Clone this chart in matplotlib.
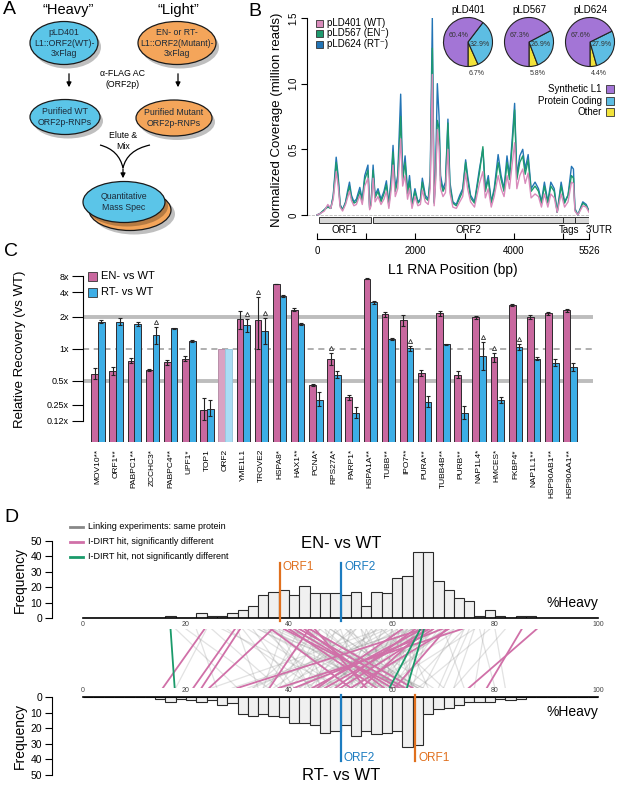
import numpy as np
import matplotlib
matplotlib.use('Agg')
import matplotlib.pyplot as plt
from matplotlib.patches import Ellipse, Rectangle, PathPatch
from matplotlib.path import Path
from matplotlib.transforms import offset_copy

plt.rcParams['font.family'] = ['Liberation Sans', 'DejaVu Sans']

# ---- B: coverage along L1 (million reads) ----
COV_POS = [0, 60, 150, 220, 280, 330, 390, 430, 470, 520, 580, 620, 660, 700, 750, 800, 870, 920, 970, 1035,
           1070, 1100, 1140, 1180, 1240, 1300, 1360, 1410, 1460, 1510, 1545, 1590, 1640, 1700, 1740, 1790, 1840, 1880, 1930, 1990,
           2050, 2100, 2140, 2200, 2260, 2300, 2343, 2380, 2410, 2445, 2480, 2510, 2560, 2610, 2660, 2700, 2760, 2830, 2900, 2960,
           3020, 3060, 3120, 3200, 3300, 3370, 3420, 3480, 3540, 3600, 3680, 3740, 3800, 3860, 3910, 3970, 4015, 4060, 4120, 4180,
           4230, 4290, 4350, 4430, 4500, 4560, 4620, 4690, 4750, 4820, 4880, 4960, 5030, 5100, 5170, 5210, 5240, 5300, 5400, 5470, 5526]
COV_WT = [.00, .01, .03, .08, .05, .12, .33, .22, .06, .03, .08, .13, .18, .11, .07, .08, .15, .08, .22, .28,
          .04, .07, .28, .10, .14, .08, .12, .18, .05, .20, .38, .14, .20, .58, .22, .30, .12, .20, .05, .14,
          .07, .08, .19, .10, .08, .20, 1.07, .07, .25, .65, .52, .20, .14, .17, .50, .17, .06, .05, .10, .14,
          .32, .20, .10, .06, .24, .33, .13, .20, .06, .14, .30, .20, .14, .30, .20, .40, .55, .20, .30, .35,
          .24, .32, .13, .16, .14, .06, .16, .06, .16, .13, .02, .16, .06, .10, .25, .24, .03, .00, .07, .06, .02]
COV_EN = [.00, .01, .04, .06, .05, .14, .40, .27, .07, .04, .09, .16, .22, .13, .09, .10, .18, .10, .27, .34,
          .05, .09, .34, .13, .18, .10, .16, .23, .07, .26, .48, .18, .26, .75, .26, .40, .16, .26, .07, .18,
          .09, .11, .25, .13, .11, .26, 1.27, .09, .30, .72, .66, .26, .18, .22, .70, .22, .09, .07, .13, .18,
          .40, .27, .13, .09, .32, .52, .18, .27, .09, .18, .40, .27, .18, .40, .27, .55, .80, .27, .40, .45,
          .31, .42, .18, .22, .18, .09, .22, .09, .22, .18, .02, .22, .09, .15, .30, .28, .04, .00, .09, .07, .03]
COV_RT = [.00, .01, .04, .07, .05, .15, .44, .30, .08, .04, .10, .18, .25, .15, .10, .12, .21, .12, .30, .38,
          .05, .10, .38, .15, .20, .12, .18, .26, .08, .30, .53, .20, .30, .92, .30, .45, .18, .30, .08, .20,
          .10, .12, .28, .15, .12, .30, 1.50, .10, .35, 1.00, .75, .30, .20, .25, .73, .25, .10, .08, .15, .20,
          .42, .30, .15, .10, .35, .50, .20, .30, .10, .20, .46, .30, .20, .45, .30, .60, .85, .30, .45, .50,
          .35, .46, .20, .25, .20, .10, .25, .10, .25, .20, .02, .25, .10, .15, .37, .35, .05, .00, .10, .08, .03]
SERIES_NAMES = ['pLD401 (WT)', 'pLD567 (EN\u207b)', 'pLD624 (RT\u207b)']
L1_REGIONS = [('ORF1', 40, 1100), ('ORF2', 1140, 5000), ('Tags', 5000, 5235), ("3'UTR", 5235, 5526)]

PIE_NAMES = ['pLD401', 'pLD567', 'pLD624']
PIE_SYN = [60.4, 67.3, 67.6]
PIE_PROT = [32.9, 26.9, 27.9]
PIE_OTHER = [6.7, 5.8, 4.4]

# ---- C: relative recovery ----
PROTEINS = ['MOV10**', 'ORF1**', 'PABPC1**', 'ZCCHC3*', 'PABPC4**', 'UPF1*', 'TOP1', 'ORF2', 'YME1L1',
            'TROVE2', 'HSPA8*', 'HAX1**', 'PCNA*', 'RPS27A*', 'PARP1*', 'HSPA1A**', 'TUBB**', 'IPO7**',
            'PURA**', 'TUBB4B**', 'PURB**', 'NAP1L4*', 'HMCES*', 'FKBP4*', 'NAP1L1**', 'HSP90AB1**', 'HSP90AA1**']
EN_RATIO = [0.58, 0.62, 0.77, 0.63, 0.75, 0.81, 0.20, 1.0, 1.90, 1.88, 5.66, 2.43, 0.44, 0.80,
            0.31, 7.1, 2.17, 1.86, 0.59, 2.22, 0.57, 1.99, 0.83, 2.79, 2.02, 2.22, 2.41]
RT_RATIO = [1.81, 1.81, 1.72, 1.35, 1.56, 1.19, 0.21, 1.0, 1.67, 1.48, 3.58, 1.72, 0.29, 0.57,
            0.18, 3.0, 1.23, 1.02, 0.27, 1.11, 0.18, 0.86, 0.29, 1.04, 0.81, 0.74, 0.67]
EN_ERR = [.18, .12, .08, .04, .08, .08, .6, 0, .3, .9, .03, .06, .06, .18, .1, .02, .1, .18,
          .1, .1, .1, .05, .15, .05, .07, .06, .07]  # log2 units
RT_ERR = [.04, .1, .06, .27, .03, .03, .45, 0, .2, .4, .05, .04, .3, .1, .35, .05, .03, .08,
          .25, .02, .4, .45, .12, .1, .06, .12, .12]
EN_DELTA = ['TROVE2', 'RPS27A*', 'HMCES*']
RT_DELTA = ['ZCCHC3*', 'YME1L1', 'TROVE2', 'IPO7**', 'NAP1L4*', 'FKBP4*']
C_TICKS = [0.125, 0.25, 0.5, 1, 2, 4, 8]
C_TICKLABELS = ['0.12x', '0.25x', '0.5x', '1x', '2x', '4x', '8x']

# ---- D: %Heavy histograms ----
BIN_EDGES = np.arange(0, 101, 2)
EN_FREQ = [0, 0, 0, 0, 0, 0, 0, 0,
           1, 0, 0, 3, 1, 1, 3, 5, 8, 15, 17, 18, 15, 21, 16, 16, 16, 15, 17, 8,
           17, 16, 26, 27, 43, 43, 24, 18, 13, 11, 1, 5, 1, 0, 1, 1,
           0, 0, 0, 0, 0, 0]
RT_FREQ = [0, 0, 0, 0, 0, 0, 0,
           1, 3, 1, 2, 3, 2, 5, 4, 11, 12, 11, 12, 13, 17, 17, 18, 23, 22, 18, 25,
           22, 24, 23, 22, 32, 31, 11, 8, 7, 5, 3, 3, 3, 1, 2, 1,
           0, 0, 0, 0, 0, 0, 0]
ORF_EN = {'ORF1': 38.2, 'ORF2': 50.1}
ORF_RT = {'ORF1': 64.5, 'ORF2': 50.0}

LINK_GRAY_EN = [18, 22, 25, 28, 30, 32, 33, 34, 35, 36, 37, 38, 38, 39, 40, 40, 41, 42, 42, 43,
                44, 44, 45, 46, 46, 47, 48, 48, 49, 50, 50, 51, 52, 52, 53, 54, 55, 56, 57, 58,
                59, 60, 60, 61, 61, 62, 62, 63, 63, 64, 64, 65, 65, 66, 66, 67, 67, 68, 69, 70,
                71, 72, 73, 74, 75, 76, 78, 80,
                20, 24, 27, 31, 34, 36, 37, 39, 41, 43, 45, 47, 49, 51, 53, 55, 57, 58, 59, 60,
                61, 62, 63, 64, 65, 66, 67, 68, 69, 70, 72, 74, 76, 77, 79, 82, 44, 46, 48, 52,
                54, 56, 58, 60, 62, 64, 66, 68, 35, 40]
LINK_GRAY_RT = [30, 26, 38, 45, 34, 50, 41, 56, 47, 60, 52, 44, 63, 55, 48, 66, 58, 36, 62, 53,
                46, 64, 57, 40, 61, 51, 65, 43, 58, 54, 35, 62, 49, 60, 44, 57, 52, 63, 42, 55,
                48, 59, 38, 53, 64, 47, 61, 32, 56, 45, 63, 50, 58, 41, 62, 54, 46, 60, 52, 57,
                48, 66, 55, 63, 70, 72, 76, 82,
                36, 18, 50, 40, 58, 44, 62, 35, 54, 66, 38, 59, 45, 68, 37, 60, 49, 70, 33, 56,
                42, 67, 51, 29, 57, 46, 64, 39, 61, 74, 52, 69, 58, 80, 65, 72, 61, 33, 65, 40,
                62, 47, 25, 64, 53, 43, 51, 56, 63, 65]
LINK_SIG_EN = [23.6, 29.5, 30.5, 36.8, 43.9, 40.0, 41.0, 42.0, 43.0, 44.0, 45.0, 36.5, 39.0,
               65.9, 67.2, 68.0, 69.7, 71.0, 73.6, 66.5, 64.5, 85.2, 88.1, 70.5, 62.0, 66.0]
LINK_SIG_RT = [15.5, 21.4, 23.0, 24.5, 36.2, 57.0, 60.0, 62.5, 58.5, 64.0, 55.0, 52.0, 61.5,
               44.5, 47.0, 50.0, 41.0, 52.0, 38.0, 54.0, 49.0, 78.4, 74.9, 60.5, 45.5, 30.0]
LINK_NS_EN = [17.0, 65.5, 66.2]
LINK_NS_RT = [17.8, 59.5, 62.9]

PINK = '#C9689F'
BLUE = '#3DAEE6'
LINE_COLORS = ['#D98BBB', '#1E9A6E', '#2274B5']
ORANGE = '#E0701E'
DBLUE = '#1C7CC0'

W, H = 617, 786
fig = plt.figure(figsize=(W / 100, H / 100), dpi=100)


def px_axes(x0, y0, x1, y1):
    return fig.add_axes([x0 / W, 1 - y1 / H, (x1 - x0) / W, (y1 - y0) / H])


canvas = px_axes(0, 0, W, H)
canvas.set_xlim(0, W)
canvas.set_ylim(H, 0)
canvas.axis('off')
canvas.set_zorder(10)

# ================= A: schematic =================
def bubble(cx, cy, w, h, color, text):
    canvas.add_patch(Ellipse((cx + 3, cy + 4), w, h, color='#000000', alpha=0.25, lw=0))
    canvas.add_patch(Ellipse((cx, cy), w, h, facecolor=color, edgecolor='#1a1a1a', lw=0.9))
    canvas.text(cx, cy, text, ha='center', va='center', fontsize=6.3, color='#1d2b3a', linespacing=1.2)


for letter, (lx, ly) in zip('ABCD', [(3, 9), (248, 11), (4, 252), (4, 518)]):
    canvas.text(lx, ly, letter, fontsize=14, ha='left', va='center')

canvas.text(68, 10, '\u201cHeavy\u201d', fontsize=10.5, ha='center', va='center')
canvas.text(178, 10, '\u201cLight\u201d', fontsize=10.5, ha='center', va='center')
bubble(64, 43, 68, 43, '#5BC5E8', 'pLD401\nL1::ORF2(WT)-\n3xFlag')
bubble(177, 43, 78, 43, '#F4A55A', 'EN- or RT-\nL1::ORF2(Mutant)-\n3xFlag')
bubble(65, 117, 70, 35, '#5BC5E8', 'Purified WT\nORF2p-RNPs')
bubble(174, 118, 76, 36, '#F4A55A', 'Purified Mutant\nORF2p-RNPs')
for ax_x in (69, 178):
    canvas.annotate('', xy=(ax_x, 90), xytext=(ax_x, 71),
                    arrowprops=dict(arrowstyle='-|>', color='k', lw=0.9, mutation_scale=7))
canvas.text(123, 79, '\u03b1-FLAG AC\n(ORF2p)', fontsize=6.3, ha='center', va='center', linespacing=1.3)
canvas.text(123, 141, 'Elute &\nMix', fontsize=6.3, ha='center', va='center', linespacing=1.3)
for start, ctrl in (((100, 145), (119, 150)), ((150, 145), (127, 150))):
    verts = [start, ctrl, (123, 168)]
    canvas.add_patch(PathPatch(Path(verts, [Path.MOVETO, Path.CURVE3, Path.CURVE3]),
                               fill=False, lw=0.9, color='k'))
canvas.annotate('', xy=(123, 181), xytext=(123, 166),
                arrowprops=dict(arrowstyle='-|>', color='k', lw=0.9, mutation_scale=7))
canvas.add_patch(Ellipse((134, 214), 82, 41, color='#000000', alpha=0.25, lw=0))
canvas.add_patch(Ellipse((130, 210), 82, 41, facecolor='#F4A55A', edgecolor='#1a1a1a', lw=0.9))
bubble(124, 202, 82, 41, '#5BC5E8', 'Quantitative\nMass Spec')

# ================= B: coverage =================
axb = px_axes(307, 18, 589, 239)
for vals, col in zip([COV_RT, COV_EN, COV_WT], LINE_COLORS[::-1]):
    axb.plot(COV_POS, vals, color=col, lw=1.0)
axb.axhline(0, color='#bbbbbb', ls='--', lw=0.6, zorder=0)
axb.set_xlim(-203, 5526)
axb.set_ylim(-0.183, 1.5)
for sp in ('top', 'right'):
    axb.spines[sp].set_visible(False)
axb.spines['left'].set_bounds(0, 1.5)
axb.spines['bottom'].set_bounds(0, 5526)
axb.set_yticks([0, 0.5, 1.0, 1.5])
axb.set_yticklabels(['0', '0.5', '1.0', '1.5'], rotation=90, va='center')
axb.tick_params(axis='y', length=4, labelsize=7, pad=2)
axb.set_xticks([0, 1000, 2000, 3000, 4000, 5000, 5526])
axb.set_xticklabels(['0', '', '2000', '', '4000', '', '5526'])
axb.tick_params(axis='x', direction='in', length=4, labelsize=7, pad=5)
for name, a, b in L1_REGIONS:
    axb.add_patch(Rectangle((a, -0.061), b - a, 0.046, facecolor='#D8D8D8', edgecolor='#333333', lw=0.7))
label_x = {'ORF1': 560, 'ORF2': 3070, 'Tags': 5120, "3'UTR": 5729}
for name, a, b in L1_REGIONS:
    axb.text(label_x[name], -0.112, name, fontsize=7, ha='center', va='center')
canvas.text(453, 270, 'L1 RNA Position (bp)', fontsize=10, ha='center', va='center')
canvas.text(277, 120, 'Normalized Coverage (million reads)', fontsize=9.5, rotation=90,
            ha='center', va='center')
for i, (name, col) in enumerate(zip(SERIES_NAMES, LINE_COLORS)):
    y = 23 + i * 10.5
    canvas.add_patch(Rectangle((316, y - 3.5), 7, 7, facecolor=col, edgecolor='#333333', lw=0.6))
    canvas.text(327, y, name, fontsize=7, va='center')

pie_colors = ['#F2E33A', '#5DBDE3', '#A375D6']
for i, cx in enumerate([468, 529, 590]):
    axp = px_axes(cx - 25, 17, cx + 25, 67)
    axp.pie([PIE_OTHER[i], PIE_PROT[i], PIE_SYN[i]], colors=pie_colors, startangle=270,
            counterclock=True, wedgeprops=dict(edgecolor='#222222', linewidth=0.8))
    axp.set_xlim(-1.02, 1.02)
    axp.set_ylim(-1.02, 1.02)
    axp.text(-0.4, 0.27, f'{PIE_SYN[i]}%', fontsize=5, ha='center', va='center', color='#333333')
    axp.text(0.47, -0.09, f'{PIE_PROT[i]}%', fontsize=5, ha='center', va='center', color='#333333')
    axp.text(0.36, -1.3, f'{PIE_OTHER[i]}%', fontsize=5, ha='center', va='center', color='#333333')
    canvas.text(cx, 10, PIE_NAMES[i], fontsize=7, ha='center', va='center')
for j, (name, col) in enumerate(zip(['Synthetic L1', 'Protein Coding', 'Other'], pie_colors[::-1])):
    y = 89 + j * 11.5
    canvas.add_patch(Rectangle((606, y - 4), 8, 8, facecolor=col, edgecolor='#333333', lw=0.6))
    canvas.text(602, y, name, fontsize=7, ha='right', va='center')

# ================= C: relative recovery =================
L2 = [-5, -3, -2, -1, 0, 1, 2, 3, 5]
PXO = [-104, -72, -56, -31.5, 0, 32, 57, 73, 105]


def c_fwd(v):
    return np.interp(np.log2(np.clip(v, 1e-6, None)), L2, PXO)


def c_inv(p):
    return 2.0 ** np.interp(p, PXO, L2)


axc = px_axes(83, 270, 593, 442)
axc.set_yscale('function', functions=(c_fwd, c_inv))
ymin, ymax = float(c_inv(-93)), float(c_inv(79))
axc.set_ylim(ymin, ymax)
axc.set_xlim(-0.83, 27.27)
x = np.arange(len(PROTEINS))
en = np.array(EN_RATIO)
rt = np.array(RT_RATIO)
ene = np.array(EN_ERR)
rte = np.array(RT_ERR)
bw = 0.37
pink_cols = [PINK] * len(x)
blue_cols = [BLUE] * len(x)
orf2 = PROTEINS.index('ORF2')
pink_cols[orf2] = '#D9A3C3'
blue_cols[orf2] = '#A9DDF5'
axc.bar(x - bw / 2, en - ymin, bw, bottom=ymin, color=pink_cols, edgecolor='#2e2a2e', lw=0.7, zorder=2)
axc.bar(x + bw / 2, rt - ymin, bw, bottom=ymin, color=blue_cols, edgecolor='#2e2a2e', lw=0.7, zorder=2)
axc.patches[orf2].set_edgecolor('#b890a8')
axc.patches[len(x) + orf2].set_edgecolor('#9cc8dd')
for xs, v, e in ((x - bw / 2, en, ene), (x + bw / 2, rt, rte)):
    m = e > 0
    axc.errorbar(xs[m], v[m], yerr=[v[m] - v[m] / 2 ** e[m], v[m] * 2 ** e[m] - v[m]], fmt='none',
                 ecolor='#222222', elinewidth=0.8, capsize=1.3, capthick=0.8, zorder=3)
tri = offset_copy(axc.transData, fig=fig, y=5, units='dots')
for names, xs, v, e in ((EN_DELTA, x - bw / 2, en, ene), (RT_DELTA, x + bw / 2, rt, rte)):
    for nm in names:
        k = PROTEINS.index(nm)
        axc.plot(xs[k], v[k] * 2 ** e[k], marker='^', ms=3, mfc='white', mec='#333333', mew=0.6,
                 transform=tri, zorder=4)
axc.axhline(2, color='#BDBDBD', lw=2.8, zorder=0.5)
axc.axhline(0.5, color='#BDBDBD', lw=2.8, zorder=0.5)
axc.axhline(1, color='#9a9a9a', lw=1.1, ls=(0, (4, 3)), zorder=0.5)
for sp in ('top', 'right', 'bottom'):
    axc.spines[sp].set_visible(False)
axc.spines['left'].set_bounds(0.125, 8)
axc.set_yticks(C_TICKS)
axc.set_yticklabels(C_TICKLABELS)
axc.yaxis.set_minor_locator(matplotlib.ticker.NullLocator())
axc.tick_params(axis='y', length=8, labelsize=6.5, pad=2)
axc.set_xticks(x)
axc.set_xticklabels(PROTEINS, rotation=90, fontsize=6)
axc.tick_params(axis='x', length=0, pad=5)
canvas.text(20, 349, 'Relative Recovery (vs WT)', fontsize=9.5, rotation=90, ha='center', va='center')
for j, (name, col) in enumerate(zip(['EN- vs WT', 'RT- vs WT'], [PINK, BLUE])):
    y = 276 + j * 16
    canvas.add_patch(Rectangle((88, y - 4.5), 9, 9, facecolor=col, edgecolor='#333333', lw=0.6))
    canvas.text(101, y, name, fontsize=8, va='center')

# ================= D: %Heavy =================
XL = (-6.02, 100)
hist_kw = dict(width=2, align='edge', color='#F0F0F0', edgecolor='#2a2a2a', lw=0.8, zorder=2)

axt = px_axes(52, 530, 598, 618)
axt.bar(BIN_EDGES[:-1], EN_FREQ, **hist_kw)
axt.set_xlim(*XL)
axt.set_ylim(0, 57.1)
axm = px_axes(52, 629, 598, 688)
axm.set_xlim(*XL)
axm.set_ylim(0, 1)
axm.axis('off')
axd = px_axes(52, 697, 598, 786)
axd.bar(BIN_EDGES[:-1], RT_FREQ, **hist_kw)
axd.set_xlim(*XL)
axd.set_ylim(57.1, 0)
axd.xaxis.tick_top()

for a, side in ((axt, 'bottom'), (axd, 'top')):
    for sp in ('top', 'right', 'bottom'):
        a.spines[sp].set_visible(False)
    a.spines[side].set_visible(True)
    a.spines[side].set_bounds(0, 100)
    a.spines[side].set_linewidth(1.2)
    a.spines['left'].set_bounds(0, 50)
    a.set_yticks([0, 10, 20, 30, 40, 50])
    a.tick_params(axis='y', length=5, labelsize=7.5, pad=2)
    a.set_xticks([0, 20, 40, 60, 80, 100])
    a.tick_params(axis='x', length=0, labelsize=5, pad=2, labelcolor='#444444')
    a.text(100, 5, '%Heavy', fontsize=10, ha='right', va='bottom' if a is axt else 'top')

for nm, col in (('ORF1', ORANGE), ('ORF2', DBLUE)):
    axt.plot([ORF_EN[nm]] * 2, [-2, 36], color=col, lw=1.6, zorder=3, clip_on=False)
    axt.text(ORF_EN[nm] + 0.6, 33, nm, color=col, fontsize=8.5, va='center')
    axd.plot([ORF_RT[nm]] * 2, [-1, 41], color=col, lw=1.6, zorder=3, clip_on=False)
    axd.text(ORF_RT[nm] + 0.6, 39, nm, color=col, fontsize=8.5, va='center')

for e, r in zip(LINK_GRAY_EN, LINK_GRAY_RT):
    axm.plot([e, r], [1, 0], color='#8c8c8c', alpha=0.25, lw=0.9)
for e, r in zip(LINK_SIG_EN, LINK_SIG_RT):
    axm.plot([e, r], [1, 0], color='#D070A8', lw=1.3)
for e, r in zip(LINK_NS_EN, LINK_NS_RT):
    axm.plot([e, r], [1, 0], color='#1A9A6A', lw=1.3)

canvas.text(341, 543, 'EN- vs WT', fontsize=12, ha='center', va='center')
canvas.text(341, 775, 'RT- vs WT', fontsize=12, ha='center', va='center')
canvas.text(20, 580, 'Frequency', fontsize=10, rotation=90, ha='center', va='center')
canvas.text(20, 736, 'Frequency', fontsize=10, rotation=90, ha='center', va='center')
for j, (name, col) in enumerate(zip(['Linking experiments: same protein', 'I-DIRT hit, significantly different',
                                     'I-DIRT hit, not significantly different'],
                                    ['#888888', '#D070A8', '#1A9A6A'])):
    y = 526.5 + j * 15
    canvas.plot([70, 83], [y, y], color=col, lw=2)
    canvas.text(88, y, name, fontsize=6.5, va='center')

fig.savefig('out.png', dpi=100)
